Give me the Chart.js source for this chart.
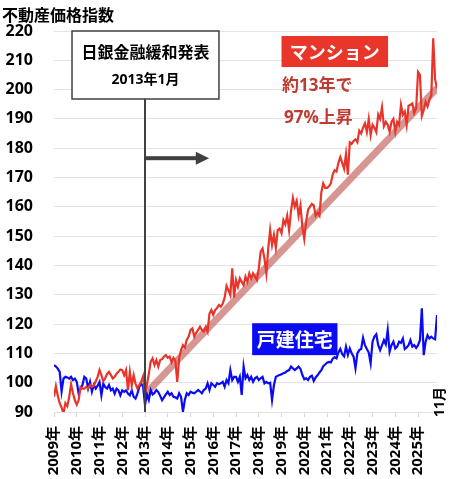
<!DOCTYPE html>
<html>
<head>
<meta charset="utf-8">
<script src="https://cdn.jsdelivr.net/npm/chart.js@4.4.1/dist/chart.umd.min.js"></script>
<style>
  html, body { margin:0; padding:0; background:#fff; }
  #wrap { width:450px; height:479px; position:relative; }
</style>
</head>
<body>
<div id="wrap"><canvas id="c"></canvas></div>
<script>
const FONT = '"Open Sans", "Noto Sans CJK JP", sans-serif';
const JP   = '"Noto Sans CJK JP", sans-serif';
const RED = '#e8352b', BLUE = '#0a0af5';

const years = ['2009年','2010年','2011年','2012年','2013年','2014年','2015年','2016年','2017年',
               '2018年','2019年','2020年','2021年','2022年','2023年','2024年','2025年'];
const lastMonthLabel = '11月';

// monthly index, Jan 2009 .. Nov 2025
const mansion = [
  95.2, 98.8, 95.5, 93, 91.5, 89.5, 93, 92, 95, 99.5, 96.5, 94,
  92.5, 94, 98.5, 98, 98, 98.6, 98, 99.2, 98.6, 99, 100.5, 102,
  104.3, 102.6, 100.5, 101.5, 103, 103.7, 102.6, 101.4, 102, 103.1, 103.7, 104.5,
  104.3, 102.6, 104.3, 97.5, 103.7, 99, 102.6, 99.7, 98, 99.2, 100.3, 102.2,
  96.4, 99.2, 103, 107.2, 108.3, 106, 107.7, 105.5, 107.7, 108, 108.9, 109.4,
  108.5, 108.9, 107, 108.5, 107.5, 100.3, 108.3, 111.1, 112.8, 112, 114.6, 115.7,
  118, 118.5, 115.7, 117, 118, 119.1, 118, 117.5, 119, 117.4, 123.6, 124.8,
  123.1, 124.8, 125.5, 126.5, 125.9, 127, 129, 133, 131.5, 129.9, 139, 129,
  135, 132.7, 135.6, 134.4, 133.3, 136.2, 134.4, 137.3, 135.6, 137.3, 136.2, 135,
  139, 144.7, 145.8, 142.4, 137.3, 145.8, 152.1, 147, 150.4, 146, 152.1, 152.6,
  151, 155.5, 154, 157, 152, 158.5, 163, 160, 162, 157, 160.5, 153,
  149, 155, 159, 160, 161, 160.5, 157, 158, 157, 165, 168, 166.5,
  166.5, 167, 168, 171, 172.5, 172, 175, 177, 175, 173, 178, 171,
  182, 181.5, 182.5, 183, 182, 186, 185, 187, 188.5, 185.5, 190, 184.5,
  188, 187, 185.5, 191.5, 190, 194, 187.5, 189, 188, 185.6, 189, 190,
  185.6, 189, 188, 194.8, 191.4, 192.5, 188, 194.5, 194.8, 195.3, 192, 193.6,
  206, 205, 191, 193, 195.8, 194.2, 196.5, 198, 217.5, 203.5, 200.5
];

const house = [
  106, 105.5, 104.8, 103.7, 97, 101.4, 102, 101.8, 101.4, 102, 100.9, 101.4,
  100.3, 96.3, 98, 99.2, 102, 101.4, 98, 100.3, 96.9, 99.2, 98, 99,
  100.3, 95.7, 99.7, 98.5, 98, 99.2, 97.4, 98, 96.3, 98, 97.4, 95.7,
  97.4, 96.9, 97.4, 96.3, 95.7, 97.4, 95.2, 94.6, 96.3, 98.6, 99.7, 98.7,
  92.4, 96, 94.1, 97.5, 96, 96.5, 97.5, 96.8, 95.5, 94, 95, 96,
  96.9, 95.8, 96.4, 95.2, 95, 94.6, 96.4, 95.2, 90.1, 94.1, 96.4, 95.8,
  96.9, 96.6, 96.4, 96.9, 97.5, 97, 96.4, 97.5, 98, 99.8, 97.5, 99.8,
  99.2, 98.6, 99.8, 99.5, 99.8, 100.3, 98.6, 100.9, 99.8, 104.3, 100.9, 102,
  102, 100.3, 102, 95.8, 105.5, 101.5, 102.6, 100.9, 102, 100.3, 101.5, 102,
  100.9, 101.5, 102, 99.8, 100.3, 99.8, 100, 94.1, 99.2, 102, 102.4, 102.6,
  102.9, 103.2, 103.5, 104, 104.3, 105.5, 104.9, 104.3, 104.9, 105.5, 104.7, 102.6,
  101.2, 101.5, 100.9, 102, 102.4, 100.6, 101.8, 102.5, 103.5, 104.3, 105.6, 106.2,
  106.8, 107.1, 106.9, 108.2, 108.7, 108.3, 110.3, 111.5, 109.7, 109, 112.3, 109.5,
  111.7, 110, 108.9, 104.9, 110, 111.1, 111.5, 115.3, 112.8, 111.5, 110.3, 106.6,
  114, 115.7, 116.5, 112.8, 111.1, 112.8, 114.5, 113.1, 118, 110.6, 112.8, 114,
  111.7, 112.3, 114, 113.6, 115.1, 111.5, 112, 112.8, 114.5, 112.3, 112.8, 111.9,
  112.8, 114.5, 125.4, 109.4, 114, 116.2, 115.1, 115.7, 115.1, 114.8, 123.1
];

// trend line from the BOJ easing (Jan 2013) to the latest month
const trendMonths = [48, 202];
const trendValues = [96, 200.5];
const eventMonth = 48;

const pts = arr => arr.map((v, i) => ({ x: i, y: v }));

const overlay = {
  id: 'overlay',
  afterDraw(chart) {
    const { ctx, chartArea: a, scales: { x, y } } = chart;
    ctx.save();

    // title
    ctx.fillStyle = '#000';
    ctx.font = 'bold 16px ' + JP;
    ctx.textAlign = 'left'; ctx.textBaseline = 'middle';
    ctx.fillText('不動産価格指数', 2, 15);

    // event line + box
    const ex = x.getPixelForValue(eventMonth);
    const bx0 = x.getPixelForValue(9.5), bx1 = x.getPixelForValue(87);
    const by0 = y.getPixelForValue(220), by1 = y.getPixelForValue(196.8);
    ctx.strokeStyle = '#404040'; ctx.lineWidth = 2;
    ctx.beginPath(); ctx.moveTo(ex, by1); ctx.lineTo(ex, a.bottom); ctx.stroke();

    // arrow
    const ay = y.getPixelForValue(176.6);
    const hx0 = x.getPixelForValue(74.8), hx1 = x.getPixelForValue(81.8);
    ctx.fillStyle = '#404040';
    ctx.fillRect(ex, ay - 2, hx0 - ex + 1, 4);
    ctx.beginPath(); ctx.moveTo(hx0, ay - 6.5); ctx.lineTo(hx1, ay); ctx.lineTo(hx0, ay + 6.5); ctx.closePath(); ctx.fill();

    ctx.fillStyle = '#fff';
    ctx.fillRect(bx0, by0, bx1 - bx0, by1 - by0);
    ctx.lineWidth = 1.5; ctx.strokeStyle = '#404040';
    ctx.strokeRect(bx0, by0, bx1 - bx0, by1 - by0);
    ctx.fillStyle = '#000'; ctx.textAlign = 'center';
    ctx.font = 'bold 16px ' + JP;
    ctx.fillText('日銀金融緩和発表', (bx0 + bx1) / 2, by0 + 21);
    ctx.font = 'bold 14px ' + FONT;
    ctx.fillText('2013年1月', (bx0 + bx1) / 2, by0 + 49);

    // マンション label
    const mx0 = x.getPixelForValue(120), mx1 = x.getPixelForValue(176.2);
    const my0 = y.getPixelForValue(218.3), my1 = y.getPixelForValue(207.7);
    ctx.fillStyle = '#e8362b';
    ctx.fillRect(mx0, my0, mx1 - mx0, my1 - my0);
    ctx.fillStyle = '#fff'; ctx.font = 'bold 18px ' + JP;
    ctx.fillText('マンション', (mx0 + mx1) / 2, (my0 + my1) / 2 + 1);

    ctx.fillStyle = '#bf3a30'; ctx.textAlign = 'left';
    ctx.font = 'bold 17px ' + FONT;
    ctx.fillText('約13年で', x.getPixelForValue(120.3), y.getPixelForValue(201.2));
    ctx.fillText('97%上昇', x.getPixelForValue(121.3), y.getPixelForValue(190.3));

    // 戸建住宅 label
    const hxa = x.getPixelForValue(104.5), hxb = x.getPixelForValue(149.5);
    const hya = y.getPixelForValue(120.3), hyb = y.getPixelForValue(109.4);
    ctx.fillStyle = BLUE;
    ctx.fillRect(hxa, hya, hxb - hxa, hyb - hya);
    ctx.fillStyle = '#fff'; ctx.textAlign = 'center';
    ctx.font = 'bold 19px ' + JP;
    ctx.fillText('戸建住宅', (hxa + hxb) / 2, (hya + hyb) / 2 + 1);

    // last month marker
    ctx.fillStyle = '#000'; ctx.font = 'bold 14px ' + FONT;
    ctx.translate(a.right + 3, a.bottom + 5);
    ctx.rotate(-Math.PI / 2);
    ctx.textAlign = 'left'; ctx.textBaseline = 'middle';
    ctx.fillText(lastMonthLabel, 0, 0);

    ctx.restore();
  }
};

new Chart(document.getElementById('c'), {
  type: 'line',
  data: {
    datasets: [
      { label: 'マンション', data: pts(mansion), borderColor: RED, borderWidth: 2.2, pointRadius: 0, tension: 0, order: 0 },
      { label: '戸建住宅', data: pts(house), borderColor: BLUE, borderWidth: 2.2, pointRadius: 0, tension: 0, order: 1 },
      { label: 'trend', data: trendMonths.map((m, i) => ({ x: m, y: trendValues[i] })),
        borderColor: 'rgba(190,80,75,0.6)', borderWidth: 7, pointRadius: 0, borderCapStyle: 'butt', order: 2 },
    ]
  },
  options: {
    responsive: true, maintainAspectRatio: false, animation: false,
    layout: { padding: { top: 31, right: 13, left: 0, bottom: 0 } },
    plugins: { legend: { display: false }, tooltip: { enabled: false } },
    scales: {
      x: {
        type: 'linear', min: 0, max: 202,
        afterBuildTicks: s => { s.ticks = years.map((_, i) => ({ value: i * 12 })); },
        afterFit: s => { s.height = 67; },
        ticks: { autoSkip: false, maxRotation: 90, minRotation: 90, padding: 9, color: '#000',
                 font: { family: FONT, size: 15, weight: 'bold' },
                 callback: v => years[Math.round(v / 12)] },
        grid: { drawOnChartArea: false, drawTicks: true, tickLength: 5, color: '#d9d9d9' },
        border: { display: false },
      },
      y: {
        min: 90, max: 220,
        afterFit: s => { s.width = 54; },
        ticks: { stepSize: 10, padding: 21, color: '#000', font: { family: FONT, size: 16, weight: 'bold' } },
        grid: { color: '#e3e3e3', drawTicks: false },
        border: { display: false },
      },
    },
  },
  plugins: [overlay],
});
</script>
</body>
</html>
